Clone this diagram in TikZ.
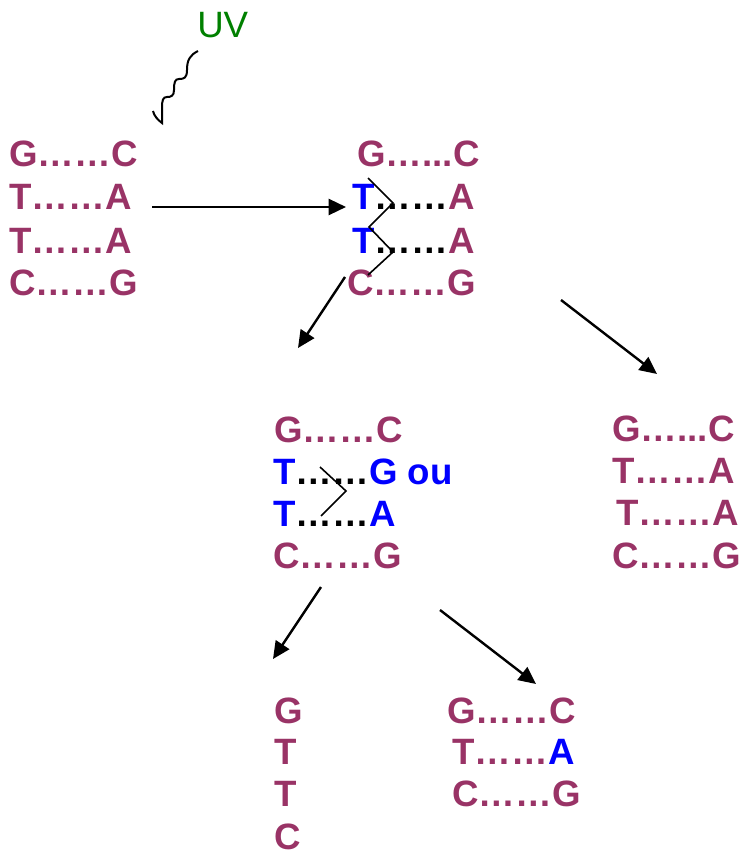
\documentclass[tikz,border=0pt]{standalone}
\usepackage{fontspec}
\setmainfont{Liberation Sans}
\usetikzlibrary{arrows.meta}
\definecolor{dnacol}{HTML}{993366}
\definecolor{uvgreen}{HTML}{008000}
\tikzset{
  base/.style={anchor=base west, inner sep=0pt, text=dnacol, font=\bfseries\fontsize{27.5}{27.5}\selectfont},
  fleche/.style={-{Triangle[length=13pt,width=12pt]}, line width=1.8pt},
  lien/.style={line width=1.2pt}
}
\newcommand{\thy}{\textcolor{blue}{T}}
\newcommand{\pts}{\textcolor{black}{……}}
\begin{document}
\begin{tikzpicture}[x=0.75pt,y=-0.75pt]
	\useasboundingbox (0,0) rectangle (741,855);
	% UV
	\node[anchor=base west, inner sep=0pt, text=uvgreen, font=\fontsize{27.5}{27.5}\selectfont] (uv) at (197,38) {UV};
	\draw [line width=1.5pt] (198,51) .. controls (190,55) and (187,60) .. (187,70) .. controls (187,78) and (184,79) .. (179,79) .. controls (175,79) and (174,82) .. (174,90) .. controls (174,96) and (171,97) .. (167,97) .. controls (163,97) and (162,100) .. (162,108) -- (162,123) .. controls (158,120) and (154,116) .. (153,111);
	% brin de depart
	\node[base] (a1) at (9,167) {G……C};
	\node[base] (a2) at (9,210) {T……A};
	\node[base] (a3) at (9,253) {T……A};
	\node[base] (a4) at (9,296) {C……G};
	% dimere
	\node[base] (b1) at (357,167) {G…...C};
	\node[base] (b2) at (352,210) {\thy\pts A};
	\node[base] (b3) at (352,253) {\thy\pts A};
	\node[base] (b4) at (347,296) {C……G};
	\draw [lien] (368,178) -- (393,203) -- (369,227) -- (393,252) -- (368,275);
	% replication
	\node[base] (c1) at (274,442) {G……C};
	\node[base] (c2) at (273,484) {\thy\pts\textcolor{blue}{G ou}};
	\node[base] (c3) at (273,526) {\thy\pts\textcolor{blue}{A}};
	\node[base] (c4) at (273,568) {C……G};
	\draw [lien] (320,467) -- (346,491) -- (321,516);
	% reparation
	\node[base] (d1) at (612,441) {G…...C};
	\node[base] (d2) at (612,483) {T……A};
	\node[base] (d3) at (616,525) {T……A};
	\node[base] (d4) at (612,568) {C……G};
	% brin seul
	\node[base] (e1) at (274,723) {G};
	\node[base] (e2) at (274,764) {T};
	\node[base] (e3) at (274,806) {T};
	\node[base] (e4) at (274,849) {C};
	% deletion
	\node[base] (f1) at (447,723) {G……C};
	\node[base] (f2) at (452,764) {T……\textcolor{blue}{A}};
	\node[base] (f3) at (452,806) {C……G};
	% fleches
	\coordinate (p1) at (152,207);
	\coordinate (q1) at (346,207);
	\coordinate (p2) at (345,277);
	\coordinate (q2) at (298,348);
	\coordinate (p3) at (561,300);
	\coordinate (q3) at (657,374);
	\coordinate (p4) at (321,587);
	\coordinate (q4) at (273,659);
	\coordinate (p5) at (440,610);
	\coordinate (q5) at (536,684);
	\draw [fleche] (p1) -- (q1);
	\draw [fleche] (p2) -- (q2);
	\draw [fleche] (p3) -- (q3);
	\draw [fleche] (p4) -- (q4);
	\draw [fleche] (p5) -- (q5);
\end{tikzpicture}
\end{document}
